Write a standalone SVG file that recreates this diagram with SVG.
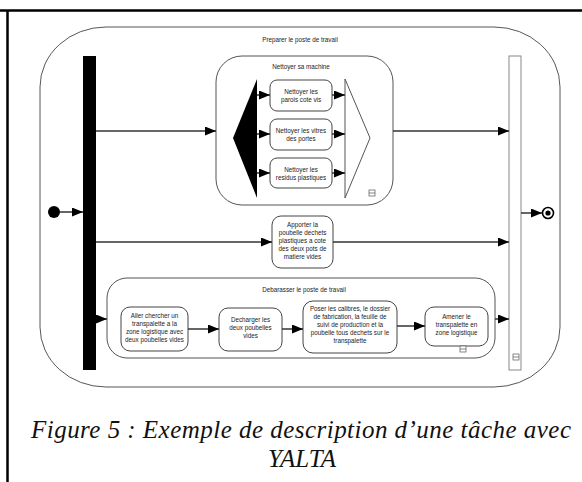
<svg xmlns="http://www.w3.org/2000/svg" width="582" height="482" viewBox="0 0 582 482">
<style>
.frame{stroke:#000;stroke-width:2.5;fill:none}
.outer{fill:#fff;stroke:#444;stroke-width:0.9}
.grp{fill:#fff;stroke:#555;stroke-width:1}
.task{fill:#fff;stroke:#444;stroke-width:1}
.t{font-family:"Liberation Sans",Arial,sans-serif;font-size:6.3px;fill:#222;text-anchor:middle}
.c{stroke:#333;stroke-width:1.5;fill:none;marker-end:url(#ah)}
.icon{fill:#fff;stroke:#555;stroke-width:0.7}
.cap{font-family:"Liberation Serif","DejaVu Serif",serif;font-style:italic;font-size:25px;fill:#111;text-anchor:middle}
</style>
<defs>
<marker id="ah" markerUnits="userSpaceOnUse" markerWidth="12" markerHeight="10" refX="11" refY="4.5" orient="auto">
<path d="M0,0 L11,4.5 L0,9 z" fill="#000"/>
</marker>
<g id="ico"><rect x="-3" y="-3" width="6" height="6" class="icon"/><line x1="-3" y1="0" x2="3" y2="0" stroke="#555" stroke-width="0.7"/></g>
</defs>
<rect width="582" height="482" fill="#fff"/>
<path class="frame" d="M0,10.5 H582 M7.5,10.5 V482"/>

<g id="preparer">
<rect class="outer" x="40" y="27" width="520" height="360" rx="66" ry="60"/>
<text class="t" x="300" y="42">Preparer le poste de travail</text>
</g>

<g id="init"><circle cx="54" cy="212" r="6" fill="#000"/></g>
<g id="fork"><rect x="83" y="56" width="13" height="314" fill="#000"/></g>
<g id="join"><rect x="509" y="56" width="12" height="314" fill="#fff" stroke="#888" stroke-width="1"/><use href="#ico" x="516" y="357"/></g>
<g id="final"><circle cx="548" cy="213" r="5.5" fill="#fff" stroke="#000" stroke-width="1.6"/><circle cx="548" cy="213" r="2.6" fill="#000"/></g>

<g id="nettoyer">
<rect class="grp" x="216" y="56" width="177" height="149" rx="26" ry="26"/>
<text class="t" x="301" y="69">Nettoyer sa machine</text>
<use href="#ico" x="372" y="193"/>
</g>
<g id="fork2"><polygon points="257,79 233,138 257,198" fill="#000"/></g>
<g id="join2"><polygon points="345,79 370,138 345,198" fill="#fff" stroke="#555" stroke-width="1"/></g>

<g id="n1"><rect class="task" x="270" y="80" width="62" height="31" rx="7"/>
<text class="t" x="301" y="94">Nettoyer les</text><text class="t" x="301" y="102">parois cote vis</text></g>
<g id="n2"><rect class="task" x="270" y="119" width="62" height="31" rx="7"/>
<text class="t" x="301" y="133">Nettoyer les vitres</text><text class="t" x="301" y="141">des portes</text></g>
<g id="n3"><rect class="task" x="270" y="158" width="62" height="30" rx="7"/>
<text class="t" x="301" y="172">Nettoyer les</text><text class="t" x="301" y="180">residus plastiques</text></g>

<g id="apporter"><rect class="task" x="272" y="216" width="61" height="52" rx="9"/>
<text class="t" x="302.5" y="227">Apporter la</text><text class="t" x="302.5" y="235">poubelle dechets</text><text class="t" x="302.5" y="243">plastiques a cote</text><text class="t" x="302.5" y="251">des deux pots de</text><text class="t" x="302.5" y="259">matiere vides</text></g>

<g id="debarasser">
<rect class="grp" x="107" y="278" width="388" height="80" rx="20" ry="20"/>
<text class="t" x="304" y="292">Debarasser le poste de travail</text>
</g>
<g id="d1"><rect class="task" x="121" y="307" width="67" height="44" rx="9"/>
<text class="t" x="154.5" y="318">Aller chercher un</text><text class="t" x="154.5" y="326">transpalette a la</text><text class="t" x="154.5" y="334">zone logistique avec</text><text class="t" x="154.5" y="342">deux poubelles vides</text></g>
<g id="d2"><rect class="task" x="219" y="308" width="63" height="43" rx="9"/>
<text class="t" x="250.5" y="322">Decharger les</text><text class="t" x="250.5" y="330">deux poubelles</text><text class="t" x="250.5" y="338">vides</text></g>
<g id="d3"><rect class="task" x="303" y="301" width="94" height="52" rx="10"/>
<text class="t" x="350" y="311">Poser les calibres, le dossier</text><text class="t" x="350" y="319">de fabrication, la feuille de</text><text class="t" x="350" y="327">suivi de production et la</text><text class="t" x="350" y="335">poubelle tous dechets sur le</text><text class="t" x="350" y="343">transpalette</text></g>
<g id="d4"><rect class="task" x="425" y="307" width="63" height="39" rx="9"/>
<text class="t" x="456.5" y="319">Amener le</text><text class="t" x="456.5" y="327">transpalette en</text><text class="t" x="456.5" y="335">zone logistique</text>
<use href="#ico" x="463" y="349"/></g>

<g id="connectors">
<line class="c" x1="60" y1="212" x2="83" y2="212"/>
<line class="c" x1="96" y1="131" x2="216" y2="131"/>
<line class="c" x1="393" y1="131" x2="509" y2="131"/>
<line class="c" x1="96" y1="242" x2="272" y2="242"/>
<line class="c" x1="333" y1="242" x2="509" y2="242"/>
<line class="c" x1="96" y1="319" x2="107" y2="319"/>
<line class="c" x1="495" y1="319" x2="509" y2="319"/>
<line class="c" x1="521" y1="213" x2="542" y2="213"/>
<line class="c" x1="257" y1="95" x2="270" y2="95"/>
<line class="c" x1="257" y1="134" x2="270" y2="134"/>
<line class="c" x1="257" y1="173" x2="270" y2="173"/>
<line class="c" x1="332" y1="95" x2="345" y2="95"/>
<line class="c" x1="332" y1="134" x2="345" y2="134"/>
<line class="c" x1="332" y1="173" x2="345" y2="173"/>
<line class="c" x1="188" y1="329" x2="219" y2="329"/>
<line class="c" x1="282" y1="329" x2="303" y2="329"/>
<line class="c" x1="397" y1="326" x2="425" y2="326"/>
</g>

<text class="cap" x="301" y="438" textLength="540" lengthAdjust="spacing">Figure 5 : Exemple de description d’une tâche avec</text>
<text class="cap" x="302" y="467">YALTA</text>
</svg>
